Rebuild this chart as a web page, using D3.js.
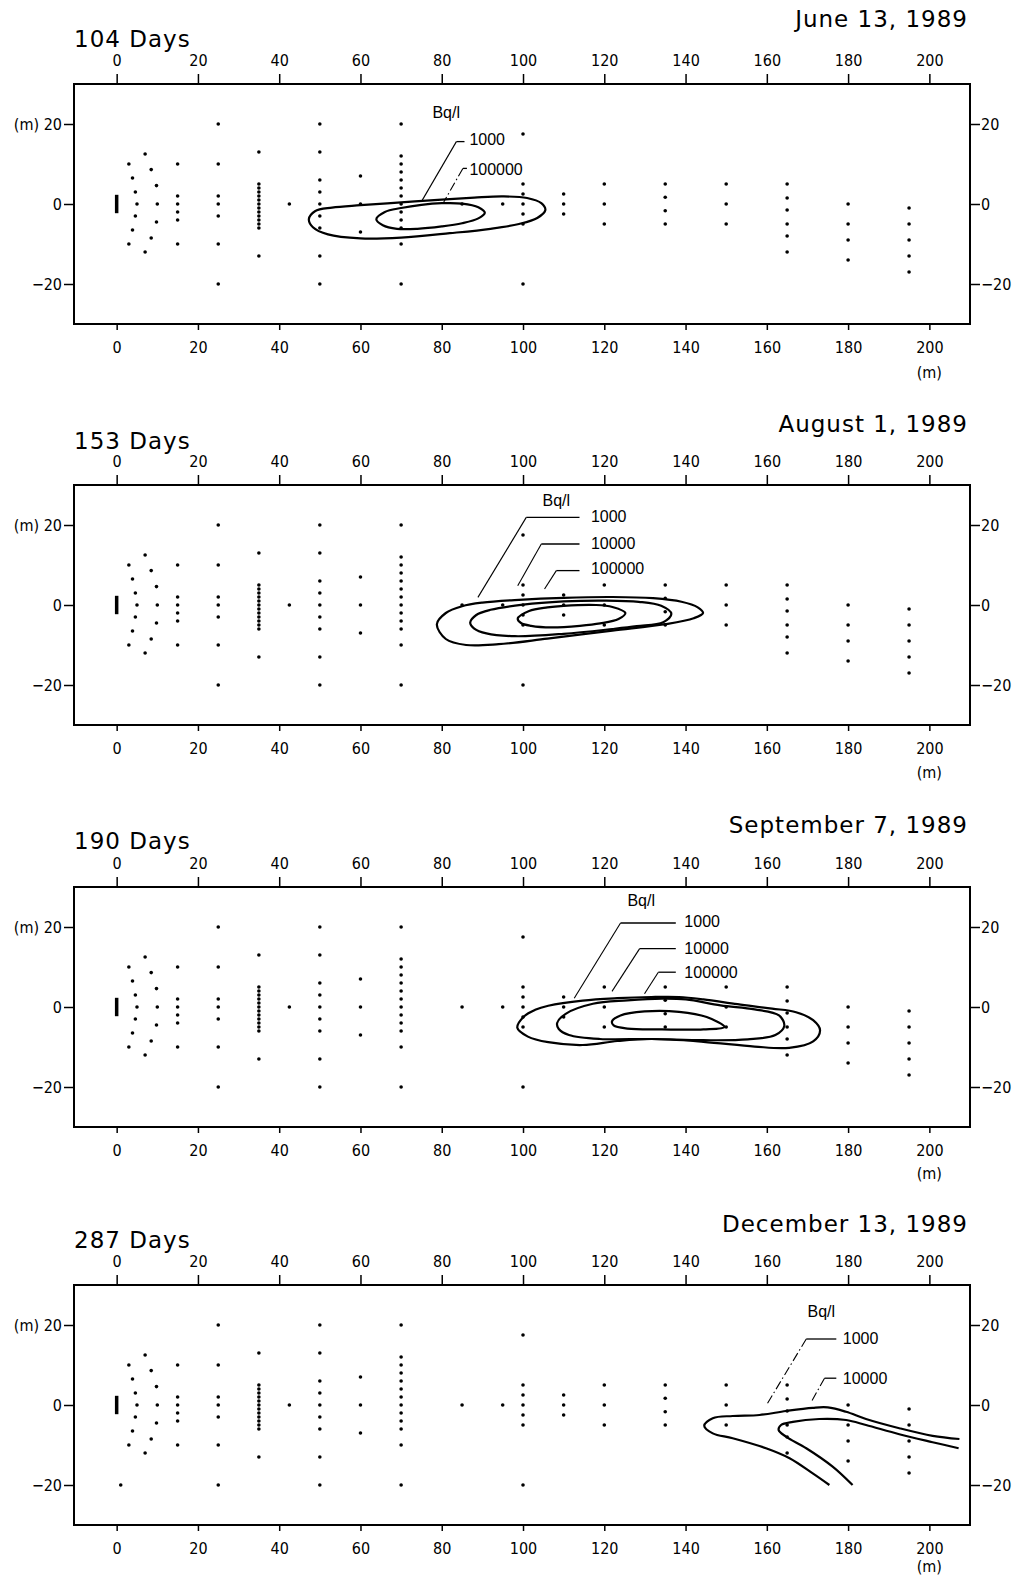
<!DOCTYPE html>
<html><head><meta charset="utf-8">
<script src="https://cdn.jsdelivr.net/npm/d3@7"></script>
<style>
body{margin:0;background:#fff;}
svg{display:block;background:#fff;}
.tick text{font-family:"Liberation Sans Narrow","DejaVu Sans Condensed","Liberation Sans",sans-serif;font-size:16px;fill:#000;}
.tick line{stroke:#000;stroke-width:1.5;}
.ttl{font-family:"DejaVu Sans",sans-serif;font-size:23px;letter-spacing:1px;fill:#000;}
.lbl{font-family:"Liberation Sans",sans-serif;font-size:16px;fill:#000;}
.unit{font-family:"Liberation Sans Narrow","DejaVu Sans Condensed","Liberation Sans",sans-serif;font-size:16px;fill:#000;}
</style></head><body>
<svg id="chart" width="1017" height="1578"></svg>
<script>
// ---------- data ----------
const titles = ["104 Days", "153 Days", "190 Days", "287 Days"];
const dates = ["June 13, 1989", "August 1, 1989", "September 7, 1989", "December 13, 1989"];
const xTicks = [0, 20, 40, 60, 80, 100, 120, 140, 160, 180, 200];
const yTicks = [-20, 0, 20];

// monitoring wells (m along / across flow)
const arcNear = [[3,10],[3.9,6.5],[4.6,3],[5,0],[4.6,-3],[3.9,-6.5],[3,-10]];
const arcFar = [[7,12.5],[8.5,8.6],[9.8,4.6],[10,0],[9.8,-4.5],[8.5,-8.5],[7,-12]];
const columnX = [15, 25, 35, 42.5, 50, 60, 70, 85, 95, 100, 110, 120, 135, 150, 165, 180, 195];
const columnY = [
  [10,2,0,-2,-4,-10],
  [20,10,2,0,-3,-10,-20],
  [13,5,4,3,2,1,0,-1,-2,-3,-4,-5,-6,-13],
  [0],
  [20,13,6,3,0,-3,-6,-13,-20],
  [7,0,-7],
  [20,12,10,8,6,4,2,0,-2,-4,-6,-10,-20],
  [0],
  [0],
  [17.5,5,2.5,0,-2.5,-5,-20],
  [2.5,0,-2.5],
  [5,0,-5],
  [5,1.7,-1.7,-5],
  [5,0,-5],
  [5,1.5,-1.5,-5,-8,-12],
  [0,-5,-9,-14],
  [-1,-5,-9,-13,-17]
];
const extraWells287 = [[1,-20]];
const sourceBar = [[0,-2.3],[0,2.3]];

// contours (Bq/l)
const c104_1000 = [[47.3,-3.8],[48.8,-1.8],[53,-0.9],[60,-0.3],[70,0.4],[80,1.1],[88,1.6],[95,1.9],[101,1.5],[104.5,0.2],[105.5,-1.5],[103.5,-3.5],[99,-5],[92,-6.2],[82,-7.3],[70,-8.4],[60,-8.6],[52,-7.6],[48.3,-5.8]];
const c104_100000 = [[63.9,-3.8],[66,-2],[70,-1],[75,-0.2],[80,0.2],[85,0.1],[89,-0.8],[90.6,-2.2],[89,-3.6],[85,-4.8],[80,-5.6],[74,-6.2],[69,-6.2],[65.5,-5.3]];
const c153_1000 = [[78.8,-4.8],[81,-2],[85,-0.3],[90,0.6],[99,1.3],[110,1.8],[122,2.0],[132,1.7],[139,0.8],[143,-0.6],[144.3,-2],[142,-3.3],[135,-4.8],[122,-6.4],[106,-8.4],[94,-9.8],[86,-10],[81,-8.5]];
const c153_10000 = [[87,-4.4],[88.5,-2.5],[92,-1.2],[100,0.1],[110,0.9],[120,1.1],[128.5,0.8],[134,-0.2],[136.5,-2.2],[134.5,-4.3],[128,-5.3],[122,-6],[110,-7.2],[98,-7.8],[91,-7.1],[88,-5.9]];
const c153_100000 = [[98.7,-3.4],[101.5,-1.5],[106,-0.6],[110,-0.2],[118,0],[122,-0.5],[125.2,-2],[123.5,-3.5],[119,-4.6],[114,-5.2],[107,-5.6],[102,-5.2],[99.5,-4.5]];
const c190_1000 = [[98.6,-5.2],[100.3,-2.3],[103,-0.7],[106.2,0.3],[114.7,1.6],[123.2,2.2],[131.6,2.5],[138.4,2.5],[144.4,1.9],[152.8,0.7],[161.3,-0.4],[167.2,-1.3],[171.4,-3.3],[173.1,-5.8],[171.4,-8.6],[165.5,-10.2],[157,-9.9],[144.4,-8.7],[131.6,-8],[123.2,-8.5],[114.7,-9.5],[106.2,-8.8],[101.2,-7.4]];
const c190_10000 = [[108.4,-4],[110.5,-1.7],[117.2,0.8],[125.7,1.65],[134.2,2.1],[140.1,1.9],[148.6,0.4],[157,-0.6],[163,-2.1],[164.3,-4.7],[162.1,-7],[155.3,-8.1],[144.4,-8.3],[131.6,-8],[118.9,-8],[111.3,-7],[108.8,-5.5]];
const c190_100000 = [[121.9,-3.6],[124,-2.1],[129.9,-1.1],[138.4,-1.2],[145.2,-2.5],[149.6,-5],[144.4,-5.6],[134.2,-5.6],[125.7,-5.4],[122.3,-4.6]];
const c287_1000 = [[175.4,-20],[171.3,-17.1],[165.6,-13.3],[159.8,-10.8],[151.6,-8.3],[146.7,-7.1],[144.6,-5.2],[146.7,-3.3],[151.6,-2.75],[158.2,-2.5],[164.7,-1.5],[171.3,-0.7],[175,-0.6],[179.5,-1.7],[184.4,-3.5],[192.6,-5.8],[200.8,-7.7],[207.4,-8.5]];
const c287_10000 = [[181.1,-20],[176.2,-15.4],[169.7,-10.8],[164.7,-7.9],[162.9,-6.25],[163.5,-5],[166.4,-4.2],[172.9,-3.5],[179.5,-3.75],[184.4,-5],[192.6,-7.3],[200.8,-9.3],[207.2,-10.8]];

// label leaders
const lead104 = [[[85.6,15.6],[83.6,15.6],[75,0.6]], [[86.2,8.9],[85.2,8.9],[80.5,0.5]]];
const lead153 = [[[113.9,21.9],[100.8,21.9],[88.9,1.9]], [[113.9,15.25],[104.5,15.25],[98.7,4.8]], [[113.9,8.6],[108.2,8.6],[105.3,4.0]]];
const lead190 = [[[137.6,21],[124,21],[112.6,2.2]], [[137.6,14.6],[128.7,14.6],[121.9,3.9]], [[137.6,8.7],[133.3,8.7],[129.9,3.3]]];
const lead287 = [[[177.1,16.5],[169.7,16.5],[159.8,-0.2]], [[177.1,6.7],[174.2,6.7],[170.9,0.7]]];
// label texts and anchors
const levels104 = ["1000", "100000"];
const levels153 = ["1000", "10000", "100000"];
const levels190 = ["1000", "10000", "100000"];
const levels287 = ["1000", "10000"];
const labelPos104 = [[86.8,16.2],[86.8,8.7]];
const labelPos153 = [[116.7,22.1],[116.7,15.5],[116.7,9.25]];
const labelPos190 = [[139.7,21.5],[139.7,14.6],[139.7,8.7]];
const labelPos287 = [[178.7,16.7],[178.7,6.7]];
const unitPos = [[77.7,21.5],[104.8,24.8],[125.7,25.2],[170,22.1]];

// ---------- layout ----------
const panelTops = [84, 485, 887, 1285];
const titleBase = [47, 449, 849, 1248];
const dateBase = [27, 432, 833, 1232];
const unitBase = [378, 778, 1179, 1572];
const PH = 240;

const panels = [
  {closed:[c104_1000, c104_100000], open:[], leads:lead104, levels:levels104, lpos:labelPos104, dash:[false,true], extra:[]},
  {closed:[c153_1000, c153_10000, c153_100000], open:[], leads:lead153, levels:levels153, lpos:labelPos153, dash:[false,false,false], extra:[]},
  {closed:[c190_1000, c190_10000, c190_100000], open:[], leads:lead190, levels:levels190, lpos:labelPos190, dash:[false,false,false], extra:[]},
  {closed:[], open:[c287_1000, c287_10000], leads:lead287, levels:levels287, lpos:labelPos287, dash:[true,true], extra:extraWells287}
];

const wells = [...arcNear, ...arcFar];
columnX.forEach((cx, i) => columnY[i].forEach(v => wells.push([cx, v])));

const svg = d3.select("#chart");
const x = d3.scaleLinear().domain([-10.5, 210]).range([74, 970]);
const fmt = d3.format("");

panels.forEach((p, i) => {
  const top = panelTops[i], bot = top + PH;
  const y = d3.scaleLinear().domain([-30, 30]).range([bot, top]);
  const g = svg.append("g");

  // axes
  g.append("g").attr("transform", `translate(0,${top})`)
    .call(d3.axisTop(x).tickValues(xTicks).tickSize(10).tickSizeOuter(0).tickPadding(8))
    .call(s => s.select(".domain").remove());
  g.append("g").attr("transform", `translate(0,${bot})`)
    .call(d3.axisBottom(x).tickValues(xTicks).tickSize(6).tickSizeOuter(0).tickPadding(12))
    .call(s => s.select(".domain").remove());
  g.append("g").attr("transform", `translate(${x.range()[0]},0)`)
    .call(d3.axisLeft(y).tickValues(yTicks).tickSize(10).tickSizeOuter(0).tickPadding(2)
      .tickFormat(d => d === 20 ? "(m) 20" : fmt(d)))
    .call(s => s.select(".domain").remove());
  g.append("g").attr("transform", `translate(${x.range()[1]},0)`)
    .call(d3.axisRight(y).tickValues(yTicks).tickSize(10).tickSizeOuter(0).tickPadding(1))
    .call(s => s.select(".domain").remove());

  // frame
  g.append("rect").attr("x", x.range()[0]).attr("y", top)
    .attr("width", x.range()[1] - x.range()[0]).attr("height", PH)
    .attr("fill", "none").attr("stroke", "#000").attr("stroke-width", 2);

  // unit label under x-axis
  g.append("text").attr("class", "unit").attr("x", x(200)).attr("y", unitBase[i])
    .attr("text-anchor", "middle").text("(m)");

  // titles
  g.append("text").attr("class", "ttl").attr("x", 74).attr("y", titleBase[i]).text(titles[i]);
  g.append("text").attr("class", "ttl").attr("x", 968).attr("y", dateBase[i])
    .attr("text-anchor", "end").text(dates[i]);

  // source
  g.append("line").attr("x1", x(sourceBar[0][0])).attr("x2", x(sourceBar[1][0]))
    .attr("y1", y(sourceBar[0][1])).attr("y2", y(sourceBar[1][1]))
    .attr("stroke", "#000").attr("stroke-width", 3.5);

  // wells
  g.append("g").selectAll("circle").data(wells.concat(p.extra)).join("circle")
    .attr("cx", d => x(d[0])).attr("cy", d => y(d[1])).attr("r", 1.8).attr("fill", "#000");

  // contours
  const closedLine = d3.line().x(d => x(d[0])).y(d => y(d[1])).curve(d3.curveCatmullRomClosed.alpha(0.5));
  const openLine = d3.line().x(d => x(d[0])).y(d => y(d[1])).curve(d3.curveCatmullRom.alpha(0.5));
  g.append("g").selectAll("path.c").data(p.closed).join("path").attr("class", "c")
    .attr("d", closedLine).attr("fill", "none").attr("stroke", "#000").attr("stroke-width", 2.2);
  g.append("g").selectAll("path.o").data(p.open).join("path").attr("class", "o")
    .attr("d", openLine).attr("fill", "none").attr("stroke", "#000").attr("stroke-width", 2.2);

  // leaders
  const plain = d3.line().x(d => x(d[0])).y(d => y(d[1]));
  p.leads.forEach((L, k) => {
    g.append("path").attr("d", plain(L.slice(0, 2))).attr("fill", "none")
      .attr("stroke", "#000").attr("stroke-width", 1.3);
    g.append("path").attr("d", plain(L.slice(1))).attr("fill", "none")
      .attr("stroke", "#000").attr("stroke-width", 1.1)
      .attr("stroke-dasharray", p.dash[k] ? "9,3,1.5,3" : null);
  });
  g.append("g").selectAll("text").data(p.levels).join("text").attr("class", "lbl")
    .attr("x", (d, k) => x(p.lpos[k][0])).attr("y", (d, k) => y(p.lpos[k][1]))
    .attr("dy", "0.36em").text(d => d);
  g.append("text").attr("class", "lbl").attr("x", x(unitPos[i][0])).attr("y", y(unitPos[i][1]))
    .text("Bq/l");
});
</script></body></html>
